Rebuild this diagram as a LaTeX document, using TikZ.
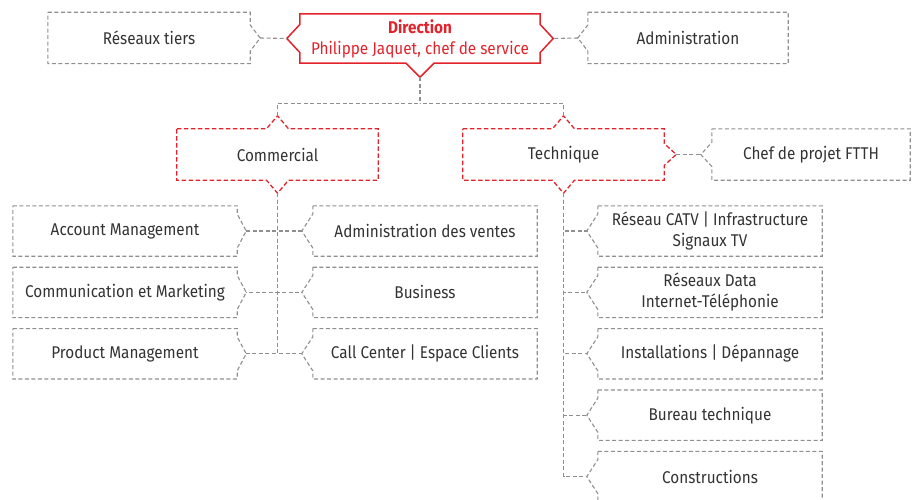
\documentclass[tikz,border=0pt]{standalone}
\usepackage{fontspec}
\setmainfont{Fira Sans}[FakeStretch=0.9]
\usepackage{tikz}
\usetikzlibrary{calc, positioning}
\usepackage{xcolor}
\definecolor{vred}{HTML}{E3232B}
\definecolor{lgray}{HTML}{8F8F8F}
\definecolor{tgray}{HTML}{333333}

% outline of a node with outward notches: [half width]{style}{node}{top}{right}{bottom}{left}
\newcommand{\notchbox}[7][13]{%
  \draw[#2] (#3.north west)
    -- ($(#3.north)-(#1,0)$) -- ($(#3.north)+(0,#4)$) coordinate (#3-t) -- ($(#3.north)+(#1,0)$)
    -- (#3.north east)
    -- ($(#3.east)+(0,#1)$) -- ($(#3.east)+(#5,0)$) coordinate (#3-r) -- ($(#3.east)-(0,#1)$)
    -- (#3.south east)
    -- ($(#3.south)+(#1,0)$) -- ($(#3.south)-(0,#6)$) coordinate (#3-b) -- ($(#3.south)-(#1,0)$)
    -- (#3.south west)
    -- ($(#3.west)-(0,#1)$) -- ($(#3.west)-(#7,0)$) coordinate (#3-l) -- ($(#3.west)+(0,#1)$)
    -- cycle;}

\tikzset{
  unit/.style={rectangle, inner sep=0pt, align=center, text=tgray,
               font=\fontsize{17}{21}\selectfont},
  head/.style={unit, minimum width=240pt, minimum height=49pt, text=vred},
  side/.style={unit, minimum width=201pt, minimum height=51pt},
  sub/.style={unit, minimum width=224pt, minimum height=50pt},
  grayline/.style={draw=lgray, line width=1.1pt, dash pattern=on 4pt off 2.5pt},
  redline/.style={draw=vred, line width=1.3pt, dash pattern=on 4.5pt off 2.5pt},
  redsolid/.style={draw=vred, line width=1.5pt},
  link/.style={grayline},
}

\begin{document}
\begin{tikzpicture}[x=1pt, y=1pt, node distance=11pt]
\useasboundingbox (0,0) rectangle (912,-500);

% top row
\node[head] (dir) at (420,-38.5) {\textbf{Direction}\\Philippe Jaquet, chef de service};
\node[side, minimum width=202pt] (tiers) at (149,-38) {Réseaux tiers};
\node[side, minimum width=200pt] (adm) at (688,-38) {Administration};

% departments
\node[side] (com) at (277.5,-154.5) {Commercial};
\node[side] (tech) at (563.5,-154.5) {Technique};
\node[side, minimum width=198pt] (ftth) at (811,-154.5) {Chef de projet FTTH};

% Commercial
\node[sub] (am) at (125,-231) {Account Management};
\node[sub, below=of am] (cm) {Communication et Marketing};
\node[sub, below=of cm] (pm) {Product Management};
\node[sub] (av) at (425,-231) {Administration des ventes};
\node[sub, below=of av] (bu) {Business};
\node[sub, below=of bu] (cc) {Call Center | Espace Clients};

% Technique
\node[sub] (catv) at (710,-231) {Réseau CATV | Infrastructure\\Signaux TV};
\node[sub, below=of catv] (data) {Réseaux Data\\Internet-Téléphonie};
\node[sub, below=of data] (inst) {Installations | Dépannage};
\node[sub, below=of inst] (bur) {Bureau technique};
\node[sub, below=of bur] (cons) {Constructions};

% outlines
\notchbox[14]{redsolid}{dir}{0}{13}{14}{13}
\notchbox{grayline}{tiers}{0}{10}{0}{0}
\notchbox{grayline}{adm}{0}{0}{0}{10}
\notchbox[11]{redline}{com}{13}{0}{13}{0}
\notchbox[11]{redline}{tech}{13}{12}{13}{0}
\notchbox[12]{grayline}{ftth}{0}{0}{0}{11}
\notchbox[17]{grayline}{am}{0}{9}{0}{0}
\notchbox[17]{grayline}{cm}{0}{9}{0}{0}
\notchbox[17]{grayline}{pm}{0}{9}{0}{0}
\notchbox[17]{grayline}{av}{0}{0}{0}{11}
\notchbox[17]{grayline}{bu}{0}{0}{0}{11}
\notchbox[17]{grayline}{cc}{0}{0}{0}{11}
\notchbox[17]{grayline}{catv}{0}{0}{0}{11}
\notchbox[17]{grayline}{data}{0}{0}{0}{11}
\notchbox[17]{grayline}{inst}{0}{0}{0}{11}
\notchbox[17]{grayline}{bur}{0}{0}{0}{11}
\notchbox[17]{grayline}{cons}{0}{0}{0}{11}

% connectors
\coordinate (split) at ($(dir-b)+(0,-26)$);
\draw[link] (dir-b) -- (split);
\draw[link] (com-t) |- (split);
\draw[link] (tech-t) |- (split);
\draw[link] (tiers-r) -- (dir-l);
\draw[link] (adm-l) -- (dir-r);
\draw[link] (tech-r) -- (ftth-l);

\draw[link] (com-b) |- (am-r);
\draw[link] (com-b) |- (cm-r);
\draw[link] (com-b) |- (pm-r);
\draw[link] (com-b) |- (av-l);
\draw[link] (com-b) |- (bu-l);
\draw[link] (com-b) |- (cc-l);

\draw[link] (tech-b) |- (catv-l);
\draw[link] (tech-b) |- (data-l);
\draw[link] (tech-b) |- (inst-l);
\draw[link] (tech-b) |- (bur-l);
\draw[link] (tech-b) |- (cons-l);
\end{tikzpicture}
\end{document}
